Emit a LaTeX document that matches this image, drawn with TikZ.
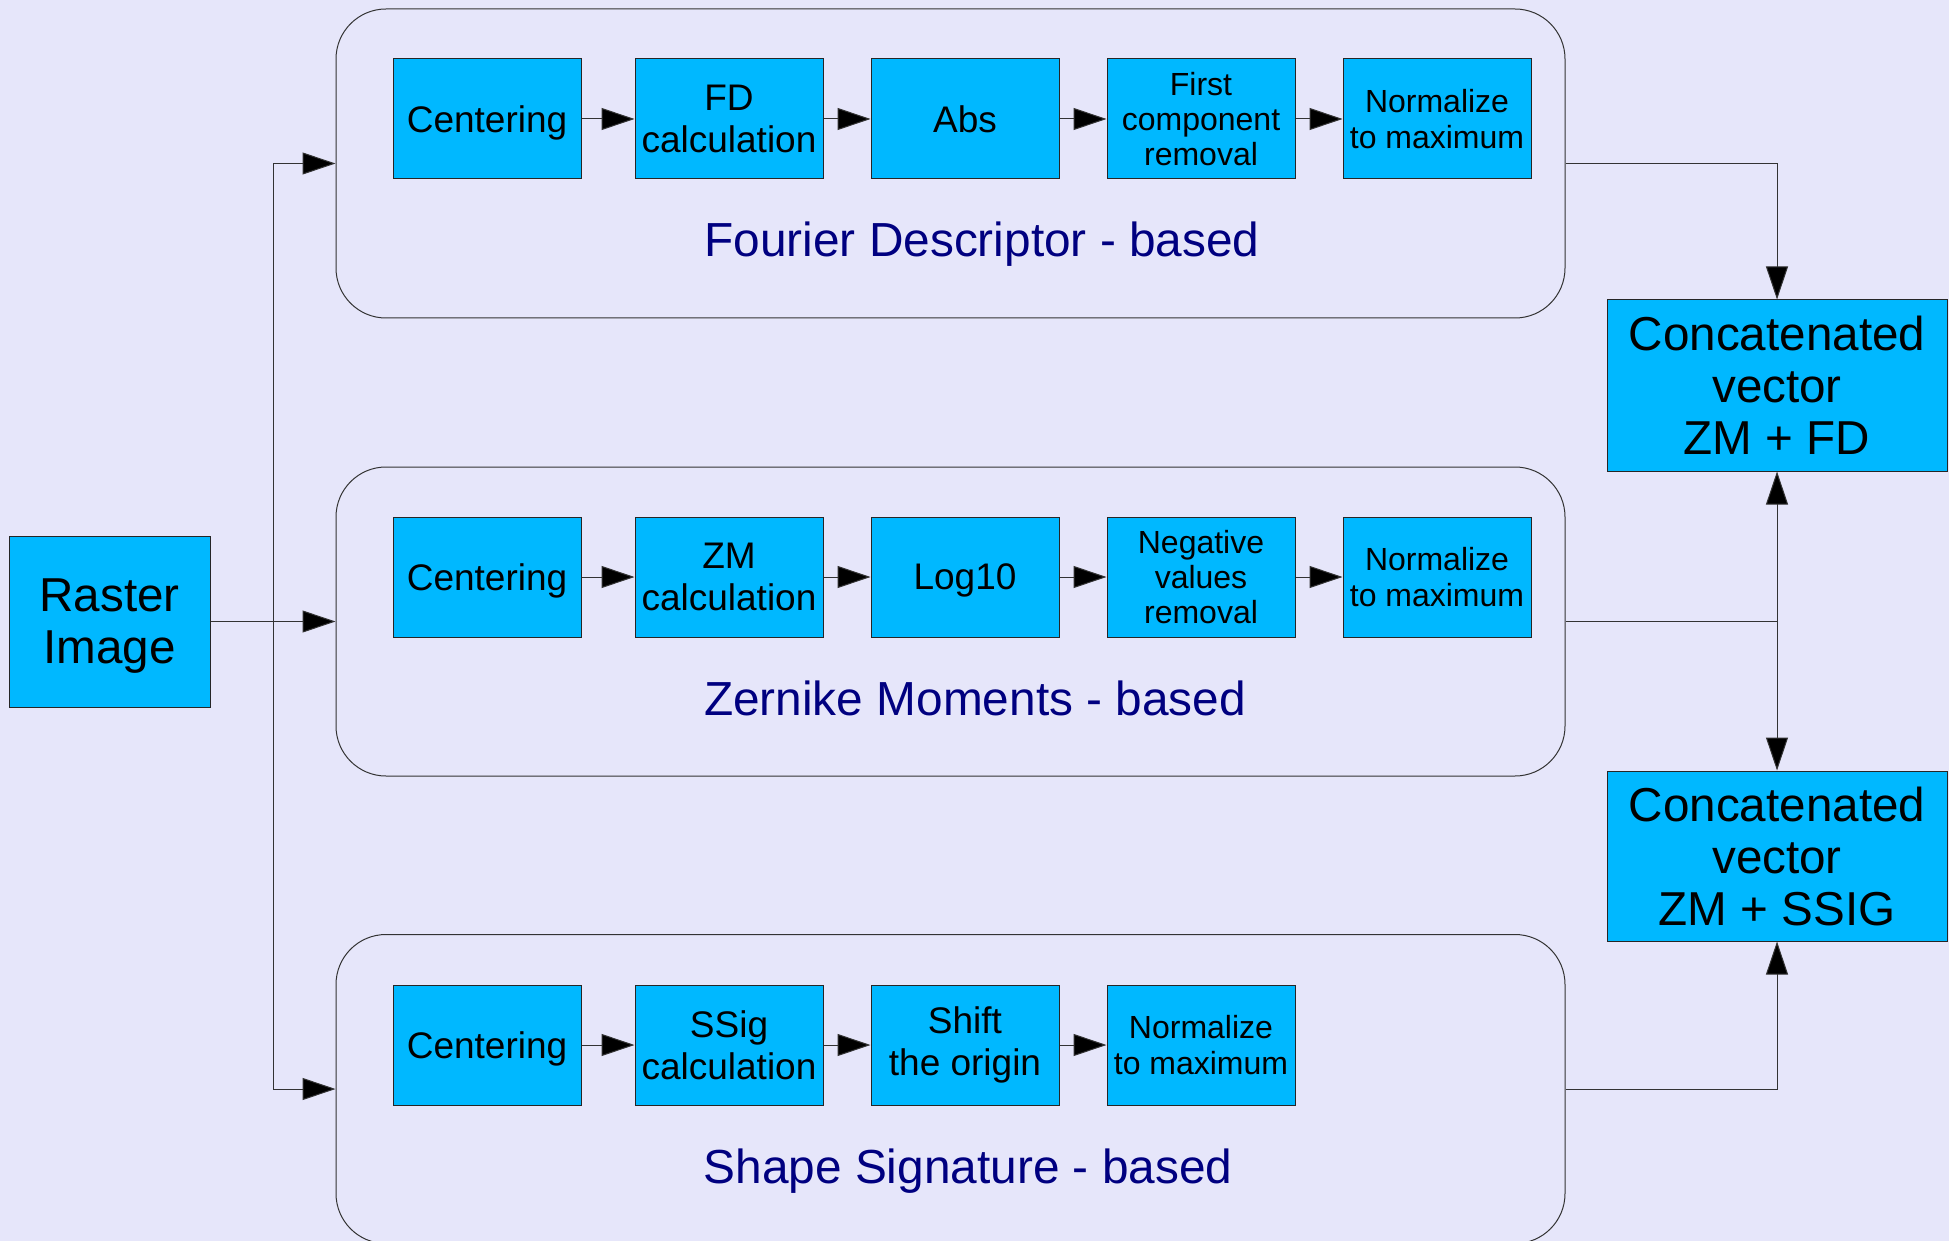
\documentclass[tikz,border=0pt]{standalone}
\usepackage{fontspec}
\setmainfont{Liberation Sans}
\usetikzlibrary{arrows.meta}
\definecolor{pagebg}{RGB}{230,230,250}
\definecolor{boxblue}{RGB}{0,184,255}
\definecolor{labelnavy}{RGB}{0,0,128}

\begin{document}
\begin{tikzpicture}[x=0.5pt,y=-0.5pt,
  every node/.style={font=\fontsize{18.5}{21}\selectfont},
  stage/.style={draw=black!85,fill=boxblue,line width=0.5pt,minimum width=94pt,minimum height=60pt,inner sep=0pt,align=center},
  oneline/.style={text depth=0pt},
  smalltext/.style={font=\fontsize{16}{17.6}\selectfont},
  bigbox/.style={draw=black!85,fill=boxblue,line width=0.5pt,inner sep=0pt,align=center,font=\fontsize{23.8}{26}\selectfont},
  group/.style={draw=black!80,line width=0.5pt,rounded corners=25pt,minimum width=614.5pt,minimum height=154.5pt,inner sep=0pt},
  grouplabel/.style={text=labelnavy,font=\fontsize{23.9}{26}\selectfont},
  wire/.style={draw=black!80,line width=0.5pt},
  arr/.style={wire,-{Triangle[length=16.5pt,width=11pt,fill=black]}}]
\useasboundingbox (0,0) rectangle (1949,1241);
\fill[pagebg] (0,0) rectangle (1949,1241);

% the three branches
\node[group] (fdgrp) at (950.5,163.5) {};
\node[group] (zmgrp) at (950.5,621.5) {};
\node[group] (ssgrp) at (950.5,1089) {};
\node[grouplabel] (fdlbl) at (982,244) {Fourier Descriptor - based};
\node[grouplabel] (zmlbl) at (975,698) {Zernike Moments - based};
\node[grouplabel] (sslbl) at (968,1171) {Shape Signature - based};

% input and outputs
\node[bigbox,minimum width=100.5pt,minimum height=85.5pt,text depth=0pt] (raster) at (109.5,621.5) {Raster\\Image};
\node[bigbox,minimum width=170pt,minimum height=85.5pt] (fdzm) at (1777,385.5) {Concatenated\\vector\\ZM + FD};
\node[bigbox,minimum width=170pt,minimum height=85pt] (zmss) at (1777,856) {Concatenated\\vector\\ZM + SSIG};

% Fourier descriptor row
\node[stage,oneline] (fdcen) at (487,119) {Centering};
\node[stage] (fdcalc) at (729,119) {FD\\calculation};
\node[stage,oneline] (fdabs) at (965,119) {Abs};
\node[stage,smalltext] (fdfirst) at (1201,119) {First\\component\\removal};
\node[stage,smalltext] (fdnorm) at (1437,119) {Normalize\\to maximum};

% Zernike row
\node[stage,oneline] (zmcen) at (487,577) {Centering};
\node[stage] (zmcalc) at (729,577) {ZM\\calculation};
\node[stage,oneline] (zmlog) at (965,577) {Log10};
\node[stage,smalltext] (zmneg) at (1201,577) {Negative\\values\\removal};
\node[stage,smalltext] (zmnorm) at (1437,577) {Normalize\\to maximum};

% shape signature row
\node[stage,oneline] (sscen) at (487,1045) {Centering};
\node[stage] (sscalc) at (729,1045) {SSig\\calculation};
\node[stage] (ssshift) at (965,1045) {Shift\\the origin};
\node[stage,smalltext] (ssnorm) at (1201,1045) {Normalize\\to maximum};

\draw[arr] (fdcen) -- (fdcalc);
\draw[arr] (fdcalc) -- (fdabs);
\draw[arr] (fdabs) -- (fdfirst);
\draw[arr] (fdfirst) -- (fdnorm);
\draw[arr] (zmcen) -- (zmcalc);
\draw[arr] (zmcalc) -- (zmlog);
\draw[arr] (zmlog) -- (zmneg);
\draw[arr] (zmneg) -- (zmnorm);
\draw[arr] (sscen) -- (sscalc);
\draw[arr] (sscalc) -- (ssshift);
\draw[arr] (ssshift) -- (ssnorm);

% split and merge
\coordinate (split) at (273,621.5);
\coordinate (merge) at (1777,621.5);
\draw[wire] (raster.east) -- (split);
\draw[arr] (split) |- (fdgrp.west);
\draw[arr] (split) -- (zmgrp.west);
\draw[arr] (split) |- (ssgrp.west);
\draw[arr] (fdgrp.east) -| (fdzm.north);
\draw[wire] (zmgrp.east) -- (merge);
\draw[arr] (merge) -- (fdzm.south);
\draw[arr] (merge) -- (zmss.north);
\draw[arr] (ssgrp.east) -| (zmss.south);
\end{tikzpicture}
\end{document}
